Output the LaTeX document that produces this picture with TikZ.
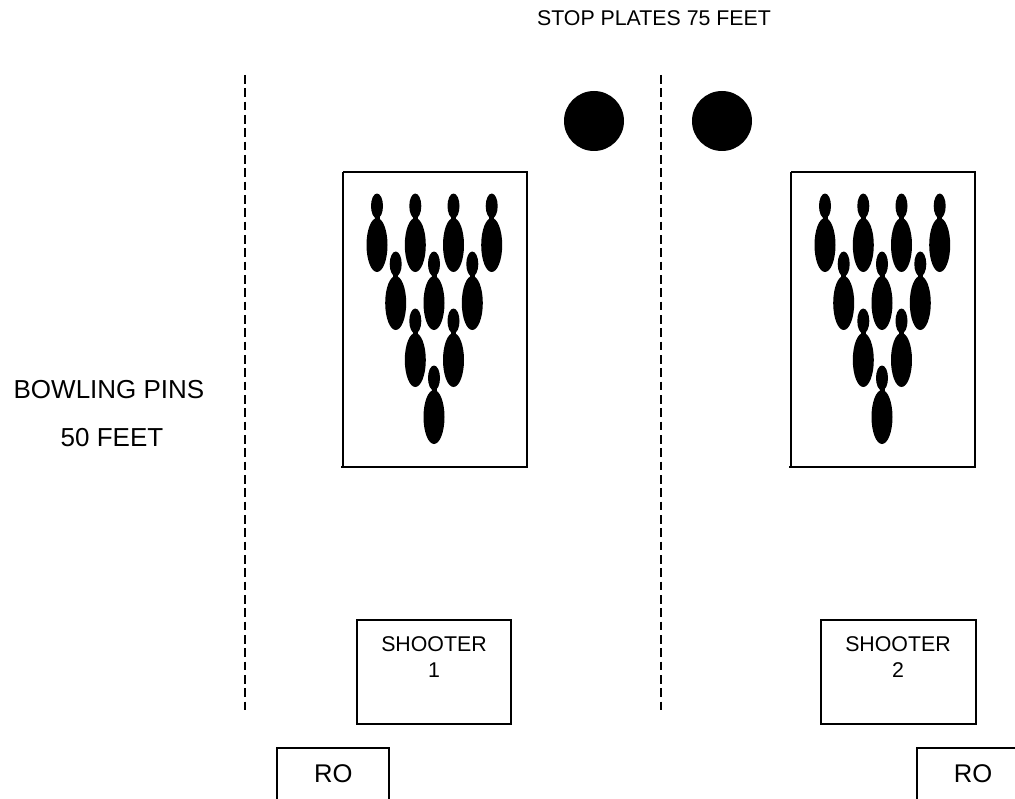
\documentclass[tikz,border=0pt]{standalone}
\usepackage{fontspec}
\setmainfont{Liberation Sans}
\tikzset{
  px/.style={x=0.75pt,y=-0.75pt},
  frame/.style={draw=black,line width=1.5pt,fill=none},
  sep/.style={draw=black,line width=1.1pt,dash pattern=on 6.5pt off 3.5pt},
  plate/.style={fill=black,draw=none},
  lab/.style={inner sep=0pt,text=black,align=center},
}
\newcommand{\onepin}[2]{%
  \fill (#1,#2) ellipse [x radius=6,y radius=12.5];
  \fill (#1,#2+39) ellipse [x radius=10.5,y radius=27];
  \fill (#1-2.5,#2+8) rectangle (#1+2.5,#2+14);
}
\newcommand{\pinrack}[1]{%
  \begin{scope}[xshift=#1*0.75pt]
  \onepin{377}{206}\onepin{415.3}{206}\onepin{453.5}{206}\onepin{491.7}{206}
  \onepin{395.7}{264}\onepin{434}{264}\onepin{472.3}{264}
  \onepin{415.3}{321}\onepin{453.5}{321}
  \onepin{434}{378}
  \end{scope}
}
\begin{document}
\begin{tikzpicture}[px]
\useasboundingbox (0,0) rectangle (1015,799);
\fill[white] (0,0) rectangle (1015,799);
\node[lab,font=\fontsize{16pt}{18pt}\selectfont] (stop) at (654,18.5) {STOP PLATES 75 FEET};
\node[lab,font=\fontsize{19.5pt}{22pt}\selectfont] (pins) at (109,390) {BOWLING PINS};
\node[lab,font=\fontsize{19.5pt}{22pt}\selectfont] (feet) at (112,438) {50 FEET};
\draw[sep] (245,75) -- (245,710);
\draw[sep] (661,75) -- (661,710);
\fill[plate] (594,121) circle (30);
\fill[plate] (722,121) circle (30);
\draw[frame] (343,172) -- (527,172) -- (527,467) -- (341,467);
\draw[frame] (343,172) -- (343,467);
\draw[frame] (791,172) -- (975,172) -- (975,467) -- (789,467);
\draw[frame] (791,172) -- (791,467);
\pinrack{0}
\pinrack{448}
\draw[frame] (356.5,620) rectangle (511,724);
\draw[frame] (820.7,620) rectangle (975.5,724);
\node[lab,font=\fontsize{16pt}{19.3pt}\selectfont] (s1) at (434,657) {SHOOTER\\1};
\node[lab,font=\fontsize{16pt}{19.3pt}\selectfont] (s2) at (898,657) {SHOOTER\\2};
\draw[frame,line width=1.2pt] (276.7,799) -- (276.7,747.7) -- (389,747.7) -- (389,799);
\draw[frame,line width=1.2pt] (916.7,799) -- (916.7,747.7) -- (1015,747.7);
\node[lab,font=\fontsize{19.2pt}{22pt}\selectfont] (ro1) at (333.3,774) {RO};
\node[lab,font=\fontsize{19.2pt}{22pt}\selectfont] (ro2) at (973,774) {RO};
\end{tikzpicture}
\end{document}
